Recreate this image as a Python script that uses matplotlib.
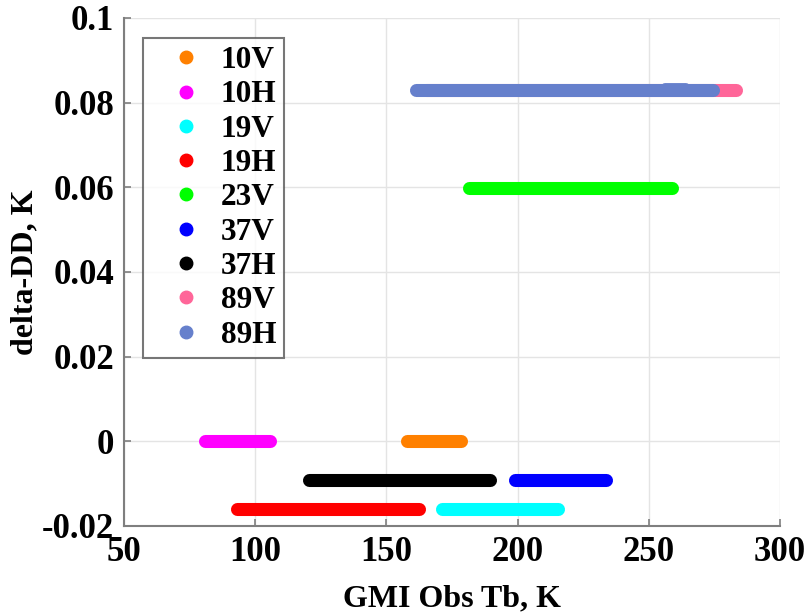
import matplotlib
matplotlib.use("Agg")
import matplotlib.pyplot as plt
from matplotlib.lines import Line2D

# GMI channels and the span of observed Tb (K) over which each delta-DD holds
channels = ["10V", "10H", "19V", "19H", "23V", "37V", "37H", "89V", "89H"]
tb_min = [158.0, 80.7, 171.3, 92.9, 181.4, 198.9, 120.5, 165.0, 161.4]
tb_max = [178.4, 105.8, 215.3, 162.6, 258.7, 233.8, 189.5, 283.2, 274.6]
delta_dd = [0.0, 0.0, -0.0159, -0.0159, 0.0598, -0.0091, -0.0091, 0.0831, 0.0831]
colors = ["#FF8000", "#FF00FF", "#00FFFF", "#FF0000", "#00FF00",
          "#0000FF", "#000000", "#FF6699", "#6680CC"]

# a few 89H points sit slightly above the main band
h89_extra_tb = [256.0, 264.0]
h89_extra_dd = [0.0836, 0.0836]

x_ticks = [50, 100, 150, 200, 250, 300]
y_ticks = [-0.02, 0, 0.02, 0.04, 0.06, 0.08, 0.1]
y_tick_labels = ["-0.02", "0", "0.02", "0.04", "0.06", "0.08", "0.1"]

plt.rcParams["font.family"] = ["Liberation Serif", "DejaVu Serif"]
plt.rcParams["font.weight"] = "bold"

fig = plt.figure(figsize=(8.06, 6.15), dpi=100)
ax = fig.add_axes([124 / 806, 1 - 526 / 615, 656 / 806, 508 / 615])

band_lw = 9.4
for lo, hi, d, c in zip(tb_min, tb_max, delta_dd, colors):
    ax.plot([lo, hi], [d, d], color=c, lw=band_lw, solid_capstyle="round", zorder=3)
ax.plot(h89_extra_tb, h89_extra_dd, color=colors[-1], lw=band_lw * 0.6,
        solid_capstyle="round", zorder=3)

ax.set_xlim(50, 300)
ax.set_ylim(-0.02, 0.1)
ax.set_xticks(x_ticks)
ax.set_xticklabels([str(v) for v in x_ticks])
ax.set_yticks(y_ticks)
ax.set_yticklabels(y_tick_labels)

ax.grid(True, color="#E4E4E4", lw=1.0, zorder=0)
ax.set_axisbelow(True)
for side in ("top", "right"):
    ax.spines[side].set_visible(False)
for side in ("left", "bottom"):
    ax.spines[side].set_color("#7F7F7F")
    ax.spines[side].set_linewidth(1.5)
ax.tick_params(direction="in", length=5, width=1.2, color="#7F7F7F",
               labelsize=25, pad=7)
for lab in ax.get_xticklabels() + ax.get_yticklabels():
    lab.set_fontweight("bold")

ax.set_xlabel("GMI Obs Tb, K", fontsize=23, fontweight="bold", labelpad=11)
ax.set_ylabel("delta-DD, K", fontsize=23, fontweight="bold", labelpad=2)

handles = [Line2D([], [], ls="none", marker="o", ms=9.0, color=c, mec=c)
           for c in colors]
leg = ax.legend(handles, channels, loc="upper left",
                bbox_to_anchor=(19 / 656, 1 - 20 / 508), borderaxespad=0,
                prop={"size": 22.5, "weight": "bold"}, frameon=True,
                fancybox=False, handlelength=2.2, handletextpad=0.02,
                labelspacing=0.17, borderpad=0.26)
leg.get_frame().set_edgecolor("#555555")
leg.get_frame().set_linewidth(1.5)

fig.savefig("out.png", dpi=100)
